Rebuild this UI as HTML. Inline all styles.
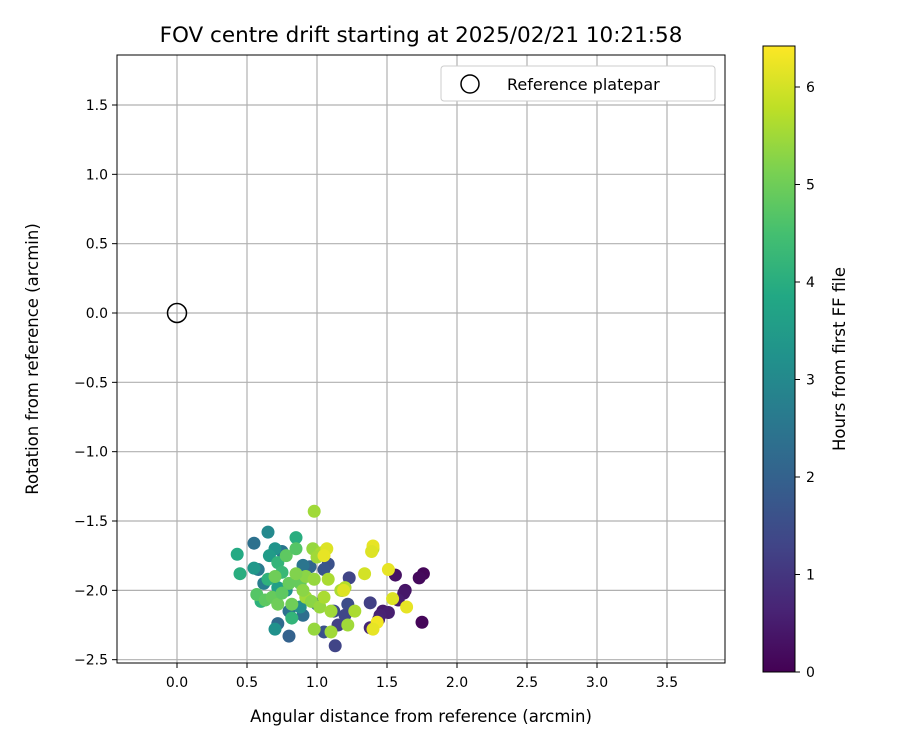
<!DOCTYPE html>
<html><head><meta charset="utf-8"><style>
body{margin:0;background:#fff;}
svg text{font-family:"DejaVu Sans","Liberation Sans",sans-serif;fill:#000;}
</style></head><body>
<svg id="chart" width="900" height="750">
<text x="421" y="42" font-size="21.5" text-anchor="middle">FOV centre drift starting at 2025/02/21 10:21:58</text>
<g id="grid"></g>
<g id="pts"></g>
<rect x="117" y="55" width="608" height="608" fill="none" stroke="#000" stroke-width="1"/>
<g id="xt"></g>
<g id="yt"></g>
<text x="421" y="722" font-size="16.5" text-anchor="middle">Angular distance from reference (arcmin)</text>
<text transform="translate(38,359) rotate(-90)" font-size="16.5" text-anchor="middle">Rotation from reference (arcmin)</text>
<g>
<rect x="441" y="66" width="274" height="35" rx="3" fill="#fff" stroke="#ccc"/>
<circle cx="470" cy="84" r="9" fill="none" stroke="#000" stroke-width="1.5"/>
<text x="507" y="90" font-size="16">Reference platepar</text>
</g>
<defs><linearGradient id="vir" x1="0" y1="1" x2="0" y2="0">
<stop offset="0" stop-color="#440154"/><stop offset="0.1" stop-color="#482475"/><stop offset="0.2" stop-color="#414487"/><stop offset="0.3" stop-color="#355f8d"/><stop offset="0.4" stop-color="#2a788e"/><stop offset="0.5" stop-color="#21918c"/><stop offset="0.6" stop-color="#22a884"/><stop offset="0.7" stop-color="#44bf70"/><stop offset="0.8" stop-color="#7ad151"/><stop offset="0.9" stop-color="#bddf26"/><stop offset="1" stop-color="#fde725"/></linearGradient></defs>
<rect x="763" y="46" width="32" height="626" fill="url(#vir)" stroke="#000"/>
<g id="ct"></g>
<text transform="translate(845,359) rotate(-90)" font-size="16.5" text-anchor="middle">Hours from first FF file</text>
</svg>
<script>
const xTicks=[0,0.5,1,1.5,2,2.5,3,3.5];
const yTicks=[1.5,1,0.5,0,-0.5,-1,-1.5,-2,-2.5];
const cTicks=[0,1,2,3,4,5,6];
const refX=[0], refY=[0];
const px=[1.76,1.73,1.56,1.63,1.62,1.58,1.75,1.47,1.51,1.45,1.44,1.38,
1.38,1.23,1.18,1.22,1.13,1.15,1.20,1.05,1.08,1.05,1.12,
0.80,0.72,0.80,0.90,0.95,0.90,1.00,0.55,0.58,0.75,0.62,
0.65,0.70,0.55,0.70,0.66,0.88,0.78,0.72,
0.43,0.45,0.60,0.85,0.72,0.75,0.65,0.82,
0.57,0.63,0.68,0.70,0.78,0.80,0.72,0.85,0.82,0.88,0.75,
0.98,0.97,1.03,1.00,0.92,0.98,1.08,0.92,0.96,1.02,1.10,1.05,0.98,1.10,1.17,1.20,1.22,1.27,1.40,0.85,0.90,
1.07,1.05,1.40,1.39,1.34,1.51,1.54,1.64,1.43,1.40,1.19];
const py=[-1.88,-1.91,-1.89,-2.00,-2.02,-2.07,-2.23,-2.15,-2.16,-2.18,-2.21,-2.27,
-2.09,-1.91,-2.00,-2.10,-2.40,-2.25,-2.18,-2.30,-1.81,-1.85,-2.15,
-2.33,-2.24,-2.15,-2.18,-1.83,-1.82,-2.10,-1.66,-1.85,-1.72,-1.95,
-1.58,-2.28,-1.84,-1.70,-1.75,-2.12,-2.00,-1.98,
-1.74,-1.88,-2.08,-1.62,-1.80,-1.87,-1.92,-2.20,
-2.03,-2.07,-2.05,-1.90,-1.75,-1.95,-2.10,-1.70,-2.10,-1.95,-2.02,
-1.43,-1.70,-1.73,-1.76,-1.90,-1.92,-1.92,-2.05,-2.08,-2.12,-2.15,-2.05,-2.28,-2.30,-2.00,-1.98,-2.25,-2.15,-1.70,-1.88,-2.00,
-1.70,-1.75,-1.68,-1.72,-1.88,-1.85,-2.06,-2.12,-2.23,-2.28,-2.00];
const hours=[0.1,0.15,0.3,0.35,0.4,0.5,0.1,0.45,0.55,0.6,0.65,0.7,
1.2,1.3,1.4,1.5,1.3,1.2,1.35,1.6,1.6,1.7,1.45,
2.0,2.2,2.4,2.3,2.1,2.5,2.2,2.4,2.6,2.5,2.7,
3.0,3.2,3.4,3.3,3.5,3.1,3.3,3.6,
3.9,4.0,4.1,4.0,4.2,4.3,4.1,4.2,
4.7,4.8,4.9,5.0,4.8,4.9,5.0,4.7,5.0,4.9,4.8,
5.5,5.4,5.6,5.5,5.3,5.4,5.6,5.5,5.3,5.4,5.5,5.6,5.4,5.5,5.6,5.7,5.5,5.6,5.8,5.2,5.3,
6.1,6.2,6.2,6.1,6.0,6.2,6.1,6.2,6.3,6.2,6.1];
const X=v=>177+v*140, Y=v=>313-v*138.67, C=v=>672-v*97.5;
const NS="http://www.w3.org/2000/svg";
function mk(t,a,p){const e=document.createElementNS(NS,t);for(const k in a)e.setAttribute(k,a[k]);p.appendChild(e);return e;}
const vir=[[68,1,84],[72,36,117],[65,68,135],[53,95,141],[42,120,142],[33,145,140],[34,168,132],[68,191,112],[122,209,81],[189,223,38],[253,231,37]];
function cmap(h){let t=Math.max(0,Math.min(1,h/6.42))*10;let i=Math.min(9,Math.floor(t));let f=t-i;const a=vir[i],b=vir[i+1];return `rgb(${a.map((v,k)=>Math.round(v+(b[k]-v)*f)).join(',')})`;}
const g=document.getElementById('grid'),xt=document.getElementById('xt'),yt=document.getElementById('yt'),pts=document.getElementById('pts'),ct=document.getElementById('ct');
xTicks.forEach(v=>{const x=X(v);
const l=mk('line',{x1:x,x2:x,y1:55,y2:663,stroke:'#b0b0b0','stroke-width':1.2},g);


mk('line',{x1:x,x2:x,y1:663,y2:668,stroke:'#000'},xt);
const t=mk('text',{x:x,y:687,'font-size':14,'text-anchor':'middle'},xt);t.textContent=v.toFixed(1);

});
yTicks.forEach(v=>{const y=Y(v);
const l=mk('line',{x1:117,x2:725,y1:y,y2:y,stroke:'#b0b0b0','stroke-width':1.2},g);


mk('line',{x1:112,x2:117,y1:y,y2:y,stroke:'#000'},yt);
const t=mk('text',{x:108,y:y+5,'font-size':14,'text-anchor':'end'},yt);t.textContent=(v<0?'\u2212':'')+Math.abs(v).toFixed(1);

});
px.forEach((v,i)=>{const c=mk('circle',{cx:X(v),cy:Y(py[i]),r:6.5,fill:cmap(hours[i])},pts);

});
refX.forEach((v,i)=>{const c=mk('circle',{cx:X(v),cy:Y(refY[i]),r:9.5,fill:'none',stroke:'#000','stroke-width':1.5},pts);

});
cTicks.forEach(v=>{const y=C(v);mk('line',{x1:795,x2:800,y1:y,y2:y,stroke:'#000'},ct);
const t=mk('text',{x:806,y:y+5,'font-size':14},ct);t.textContent=v;

});
</script>
</body></html>
